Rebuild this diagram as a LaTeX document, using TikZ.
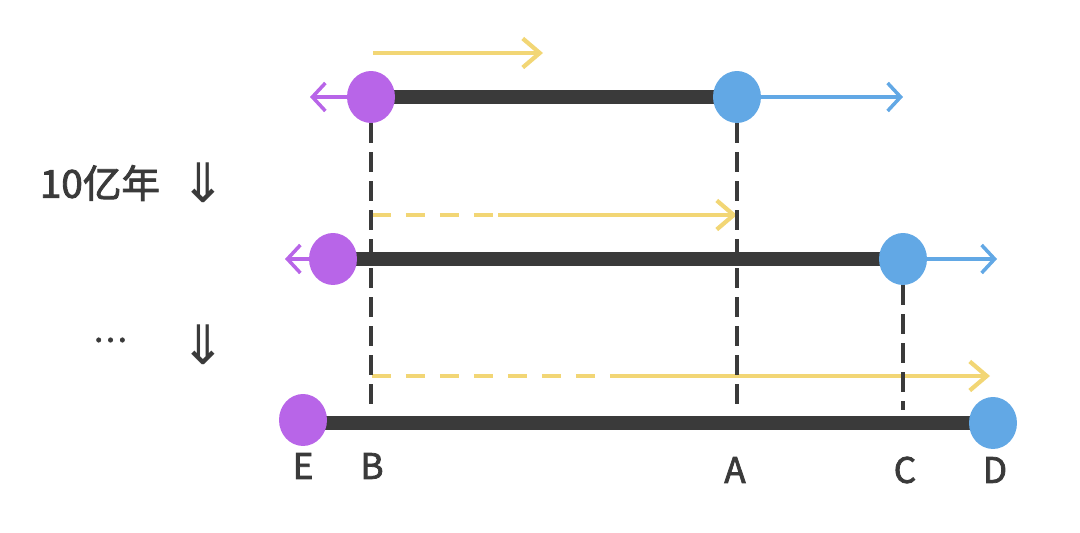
\documentclass[tikz,border=0pt]{standalone}
\usepackage{fontspec}
\newfontfamily\cjk[FakeBold=2.2]{Noto Sans CJK SC}
\newfontfamily\symb{DejaVu Sans}
\usetikzlibrary{arrows.meta,shapes.geometric}

\definecolor{dotpurple}{HTML}{B865E8}
\definecolor{dotblue}{HTML}{62A8E5}
\definecolor{barblack}{HTML}{3A3A3A}
\definecolor{moveyellow}{HTML}{F2D675}

\tikzset{
    pdot/.style={ellipse, fill=dotpurple, minimum width=0.96cm, minimum height=1.04cm, inner sep=0pt},
    bdot/.style={ellipse, fill=dotblue, minimum width=0.96cm, minimum height=1.04cm, inner sep=0pt},
    bar/.style={line width=0.28cm, draw=barblack},
    guide/.style={line width=2.1pt, draw=barblack, dash pattern=on 0.4cm off 0.18cm},
    yarrow/.style={line width=2.4pt, draw=moveyellow, -{Straight Barb[length=0.34cm,width=0.58cm,line width=2.4pt]}},
    ydash/.style={line width=2.4pt, draw=moveyellow, dash pattern=on 0.38cm off 0.3cm},
    parrow/.style={line width=2pt, draw=dotpurple, -{Straight Barb[length=0.26cm,width=0.56cm,line width=2pt]}},
    barrow/.style={line width=2pt, draw=dotblue, -{Straight Barb[length=0.26cm,width=0.56cm,line width=2pt]}},
    letter/.style={font=\fontsize{20}{24}\selectfont\cjk, text=barblack},
    timetext/.style={font=\fontsize{22}{26}\selectfont\cjk, text=barblack},
    downsym/.style={font=\fontsize{31}{34}\selectfont\symb, text=barblack}
}

\begin{document}
\begin{tikzpicture}[x=0.02cm, y=-0.02cm]
    \useasboundingbox (0,0) rectangle (1080,533);

    % time steps on the left
    \node[timetext] (t1) at (100,183) {10亿年};
    \node[downsym] (d1) at (203,183) {⇓};
    \node[timetext, font=\fontsize{18}{20}\selectfont\cjk] (t2) at (110,340) {…};
    \node[downsym] (d2) at (203,345) {⇓};

    % labels at the bottom
    \node[letter] (E) at (303,466) {E};
    \node[letter] (B) at (372,466) {B};
    \node[letter] (A) at (735,470) {A};
    \node[letter] (C) at (905,470) {C};
    \node[letter] (D) at (995,470) {D};
    \coordinate (Bend) at (371,410);
    \coordinate (Aend) at (737,410);
    \coordinate (Cend) at (903,410);

    % row 1
    \draw[bar] (371,97) -- (737,97);
    \node[pdot] (p1) at (371,97) {};
    \node[bdot] (b1) at (737,97) {};
    \coordinate (p1tip) at (310,97);
    \coordinate (b1tip) at (903,97);
    \draw[parrow] (p1.west) -- (p1tip);
    \draw[barrow] (b1.east) -- (b1tip);
    \coordinate (y1s) at (373,53);
    \coordinate (y1e) at (543,53);
    \draw[yarrow] (y1s) -- (y1e);

    % row 2
    \draw[bar] (333,259) -- (903,259);
    \node[pdot] (p2) at (333,259) {};
    \node[bdot] (b2) at (903,259) {};
    \coordinate (p2tip) at (285,259);
    \coordinate (b2tip) at (997,259);
    \draw[parrow] (p2.west) -- (p2tip);
    \draw[barrow] (b2.east) -- (b2tip);
    \coordinate (y2s) at (372,215);
    \coordinate (y2m) at (498,215);
    \coordinate (y2e) at (737,215);
    \draw[ydash] (y2s) -- (y2m);
    \draw[yarrow] (y2m) -- (y2e);

    % row 3
    \draw[bar] (303,423) -- (993,423);
    \node[pdot] (p3) at (303,420) {};
    \node[bdot] (b3) at (993,423) {};
    \coordinate (y3s) at (372,376);
    \coordinate (y3m) at (615,376);
    \coordinate (y3e) at (990,376);
    \draw[ydash] (y3s) -- (y3m);
    \draw[yarrow] (y3m) -- (y3e);

    % guides down to the labels
    \draw[guide] (p1.south) -- (Bend);
    \draw[guide] (b1.south) -- (Aend);
    \draw[guide] (b2.south) -- (Cend);
\end{tikzpicture}
\end{document}
